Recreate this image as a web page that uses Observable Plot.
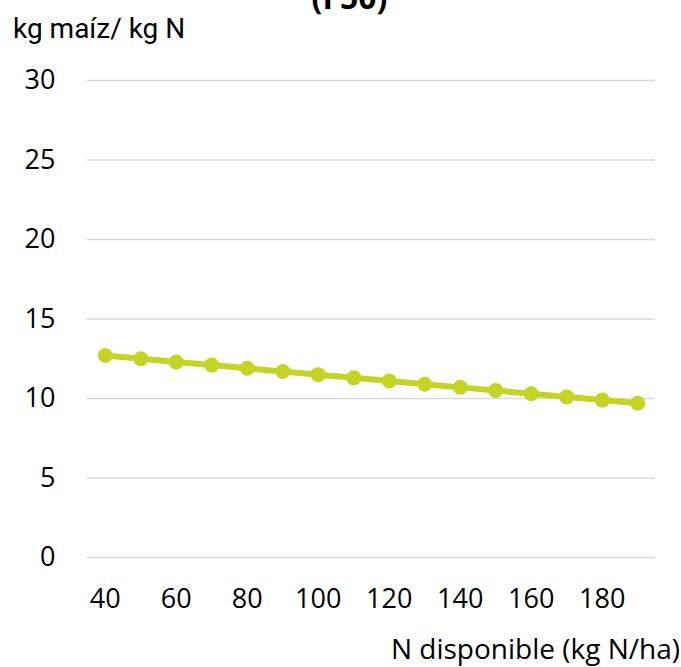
<!DOCTYPE html>
<html>
<head>
<meta charset="utf-8">
<script src="https://cdn.jsdelivr.net/npm/d3@7"></script>
<script src="https://cdn.jsdelivr.net/npm/@observablehq/plot@0.6"></script>
<style>
  html, body { margin: 0; padding: 0; background: #fff; }
  #wrap { position: relative; width: 681px; height: 667px; overflow: hidden; font-family: "Open Sans", sans-serif; }
  #wrap svg { position: absolute; left: 0; top: 0; }
  .t { position: absolute; white-space: nowrap; color: #000; line-height: 1; }
</style>
</head>
<body>
<div id="wrap">
  <div class="t" style="left:0;width:699px;text-align:center;top:-19px;font-size:32px;font-weight:bold;">(F50)</div>
  <div class="t" style="left:13px;top:15px;font-size:28px;font-family:Roboto, sans-serif;">kg maíz/ kg N</div>
  <div class="t" style="right:1px;top:634px;font-size:28px;">N disponible (kg N/ha)</div>
</div>
<script>
const nAvailable = [40, 50, 60, 70, 80, 90, 100, 110, 120, 130, 140, 150, 160, 170, 180, 190];
const efficiency = [12.7, 12.5, 12.3, 12.1, 11.9, 11.7, 11.5, 11.3, 11.1, 10.9, 10.7, 10.5, 10.3, 10.1, 9.9, 9.7];
const xTicks = [40, 60, 80, 100, 120, 140, 160, 180];
const yTicks = [0, 5, 10, 15, 20, 25, 30];

const data = nAvailable.map((x, i) => ({x, y: efficiency[i]}));
const color = "#c4d424";

const chart = Plot.plot({
  width: 681,
  height: 667,
  marginLeft: 87,
  marginRight: 26,
  marginTop: 80,
  marginBottom: 110,
  style: {fontFamily: "'Open Sans', sans-serif", fontSize: "27px", color: "#000", background: "transparent"},
  x: {type: "point", domain: nAvailable, padding: 0.5, round: false, label: null},
  y: {domain: [0, 30], label: null},
  marks: [
    Plot.gridY(yTicks, {stroke: "#d9d9d9", strokeOpacity: 1, strokeWidth: 1.5}),
    Plot.axisY(yTicks, {tickSize: 0, tickPadding: 32, label: null, fontSize: 27}),
    Plot.axisX(xTicks, {tickSize: 0, tickPadding: 31, label: null, fontSize: 27}),
    Plot.line(data, {x: "x", y: "y", stroke: color, strokeWidth: 6}),
    Plot.dot(data, {x: "x", y: "y", fill: color, r: 7.5, stroke: "none"})
  ]
});
document.getElementById("wrap").prepend(chart);
</script>
</body>
</html>
